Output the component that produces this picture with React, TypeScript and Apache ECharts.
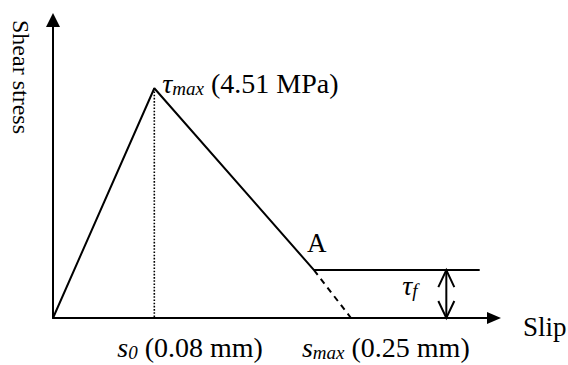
import React, { useEffect, useRef } from "react";
import * as echarts from "echarts";

// Schematic bond–slip law (slip in mm, shear stress in MPa)
const curveSlip = [0, 0.085, 0.219, 0.358];
const curveStress = [0, 4.51, 0.94, 0.94];
const softeningSlip = [0.219, 0.25];
const softeningStress = [0.94, 0];
const peakSlip = 0.085;
const peakStress = 4.51;
const residualStress = 0.94;
const maxSlip = 0.25;
const residualArrowSlip = 0.33;
const axisMaxSlip = 0.37;
const axisMaxStress = 5.85;

const peakLabel = ["τ", "max", " (4.51 MPa)"];
const s0Label = ["s", "0", " (0.08 mm)"];
const sMaxLabel = ["s", "max", " (0.25 mm)"];
const pointALabel = "A";
const residualLabel = ["τ", "f"];
const xAxisName = "Slip";
const yAxisName = "Shear stress";

const FONT = "Liberation Serif";

const zip = (xs: number[], ys: number[]) => xs.map((x, i) => [x, ys[i]]);

const rich = {
  it: { fontFamily: FONT, fontSize: 28, fontStyle: "italic", fill: "#000", lineHeight: 30 },
  sub: { fontFamily: FONT, fontSize: 19, fontStyle: "italic", fill: "#000", lineHeight: 18, verticalAlign: "bottom" },
  n: { fontFamily: FONT, fontSize: 28, fontStyle: "normal", fill: "#000", lineHeight: 30 },
};

export default function App() {
  const ref = useRef<HTMLDivElement>(null);
  useEffect(() => {
    if (!ref.current) return;
    const chart = echarts.init(ref.current, null, { renderer: "svg" });
    const black = "#000";
    chart.setOption({
      animation: false,
      backgroundColor: "#fff",
      grid: { left: 53, right: 74, top: 20, bottom: 47 },
      xAxis: {
        type: "value",
        min: 0,
        max: axisMaxSlip,
        axisLine: {
          show: true,
          symbol: ["none", "triangle"],
          symbolSize: [12, 14],
          lineStyle: { color: black, width: 2 },
        },
        axisTick: { show: false },
        axisLabel: { show: false },
        splitLine: { show: false },
      },
      yAxis: {
        type: "value",
        min: 0,
        max: axisMaxStress,
        axisLine: {
          show: true,
          symbol: ["none", "triangle"],
          symbolSize: [14, 14],
          lineStyle: { color: black, width: 2 },
        },
        axisTick: { show: false },
        axisLabel: { show: false },
        splitLine: { show: false },
      },
      series: [
        {
          type: "line",
          data: zip(curveSlip, curveStress),
          symbol: "none",
          lineStyle: { color: black, width: 2 },
        },
        {
          type: "line",
          data: zip(softeningSlip, softeningStress),
          symbol: "none",
          lineStyle: { color: black, width: 2, type: [6, 5] },
        },
        {
          type: "line",
          data: [[peakSlip, peakStress], [peakSlip, 0]],
          symbol: "none",
          lineStyle: { color: black, width: 1.6, type: [1.6, 1.6] },
        },
        {
          type: "line",
          data: [[residualArrowSlip, residualStress], [residualArrowSlip, 0]],
          symbol: "none",
          lineStyle: { color: black, width: 2 },
        },
      ],
    });

    const px = (x: number, y: number) => chart.convertToPixel({ gridIndex: 0 }, [x, y]) as number[];
    const peak = px(peakSlip, peakStress);
    const s0 = px(peakSlip, 0);
    const sm = px(maxSlip, 0);
    const a = px(softeningSlip[0], softeningStress[0]);
    const arrTop = px(residualArrowSlip, residualStress);
    const arrBot = px(residualArrowSlip, 0);
    const xEnd = px(axisMaxSlip, 0);
    const yEnd = px(0, axisMaxStress);
    const cw = 8;
    const ch = 17;

    const rt = (parts: string[], subIdx: number) =>
      parts.map((p, i) => (i === subIdx ? `{sub|${p}}` : i === 0 ? `{it|${p}}` : `{n|${p}}`)).join("");

    const plain = (size: number) => ({ fontFamily: FONT, fontSize: size, fontStyle: "normal", fill: "#000" });

    chart.setOption({
      graphic: [
        {
          type: "text",
          x: peak[0] + 8,
          y: peak[1] - 5,
          style: { text: rt(peakLabel, 1), rich, ...plain(28), align: "left", verticalAlign: "middle" },
        },
        {
          type: "text",
          x: s0[0] - 37,
          y: s0[1] + 29,
          style: { text: rt(s0Label, 1), rich, ...plain(28), align: "left", verticalAlign: "middle" },
        },
        {
          type: "text",
          x: sm[0] - 49,
          y: sm[1] + 29,
          style: { text: rt(sMaxLabel, 1), rich, ...plain(28), align: "left", verticalAlign: "middle" },
        },
        {
          type: "text",
          x: a[0] - 7,
          y: a[1] - 27,
          style: { text: pointALabel, ...plain(27), align: "left", verticalAlign: "middle" },
        },
        {
          type: "text",
          x: arrTop[0] - 44,
          y: (arrTop[1] + arrBot[1]) / 2 - 9,
          style: { text: rt(residualLabel, 1), rich, ...plain(27), align: "left", verticalAlign: "middle" },
        },
        {
          type: "text",
          x: xEnd[0] + 29,
          y: xEnd[1] + 9,
          style: { text: xAxisName, ...plain(27), align: "left", verticalAlign: "middle" },
        },
        {
          type: "text",
          x: yEnd[0] - 32,
          y: yEnd[1] + 57,
          rotation: -Math.PI / 2,
          style: { text: yAxisName, ...plain(24), align: "center", verticalAlign: "middle" },
        },
        {
          type: "polyline",
          shape: { points: [[arrTop[0] - cw, arrTop[1] + ch], [arrTop[0], arrTop[1]], [arrTop[0] + cw, arrTop[1] + ch]] },
          style: { stroke: "#000", lineWidth: 2, fill: "none" },
        },
        {
          type: "polyline",
          shape: { points: [[arrBot[0] - cw, arrBot[1] - ch], [arrBot[0], arrBot[1]], [arrBot[0] + cw, arrBot[1] - ch]] },
          style: { stroke: "#000", lineWidth: 2, fill: "none" },
        },
      ],
    });

    return () => chart.dispose();
  }, []);
  return <div ref={ref} style={{ width: 568, height: 365, position: "absolute", left: 0, top: 0 }} />;
}
